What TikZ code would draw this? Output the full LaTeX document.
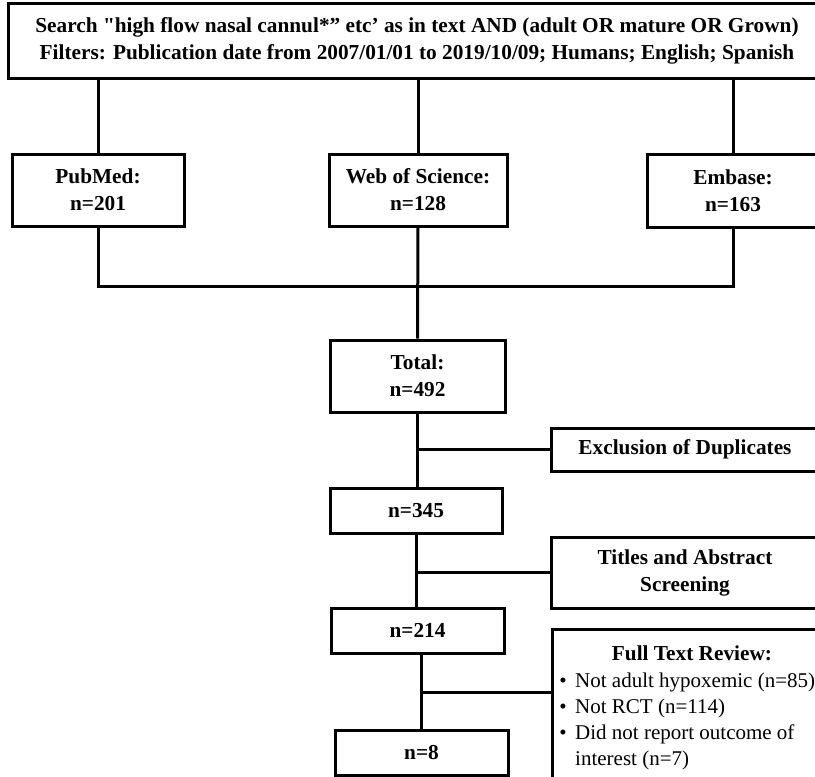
\documentclass[tikz,border=0pt]{standalone}
\usepackage{fontspec}
\setmainfont{Liberation Serif}[Ligatures=TeXOff]
\begin{document}
\begin{tikzpicture}[x=1pt,y=-1pt,
  box/.style={draw, line width=3pt, inner sep=0pt, align=center, font=\bfseries\fontsize{21.3}{27}\selectfont},
  link/.style={line width=3pt},
  plain/.style={inner sep=0pt, font=\fontsize{21}{27}\selectfont, anchor=base west}]
\useasboundingbox (0,0) rectangle (815,777);
\clip (0,0) rectangle (815,777);
\node[box, minimum width=818pt, minimum height=75pt] (top) at (417,40.5)
  {Search "high flow nasal cannul*” etc’ as in text AND (adult OR mature OR Grown)\\
   Filters: Publication date from 2007/01/01 to 2019/10/09; Humans; English; Spanish};
\node[box, minimum width=172pt, minimum height=72pt] (pubmed) at (98,190) {PubMed:\\n=201};
\node[box, minimum width=178pt, minimum height=72pt] (wos) at (418,190) {Web of Science:\\n=128};
\node[box, minimum width=172pt, minimum height=73pt] (embase) at (733,190.5) {Embase:\\n=163};
\node[box, minimum width=175pt, minimum height=72pt] (total) at (417.5,376) {Total:\\n=492};
\node[box, minimum width=268pt, minimum height=43pt] (excl) at (685,449.5) {Exclusion of Duplicates};
\node[box, minimum width=172pt, minimum height=45pt] (n345) at (416,510.5) {n=345};
\node[box, minimum width=268pt, minimum height=71pt] (titles) at (685,572.5) {Titles and Abstract\\Screening};
\node[box, minimum width=173pt, minimum height=45pt] (n214) at (417.5,630.5) {n=214};
\node[box, minimum width=173pt, minimum height=45pt] (n8) at (421.5,752.5) {n=8};
\node[box, minimum width=280pt, minimum height=171pt] (ft) at (692,714.5) {};
\node[box, draw=none, anchor=base] (fttitle) at (692,660) {Full Text Review:};
\node[plain] (b1) at (575,687) {\llap{\textbullet\hspace{8.5pt}}Not adult hypoxemic (n=85)};
\node[plain] (b2) at (575,713) {\llap{\textbullet\hspace{8.5pt}}Not RCT (n=114)};
\node[plain] (b3) at (575,739) {\llap{\textbullet\hspace{8.5pt}}Did not report outcome of};
\node[plain] (b4) at (575,765) {interest (n=7)};
% connectors
\draw[link] (pubmed.north |- top.south) -- (pubmed.north);
\draw[link] (wos.north |- top.south) -- (wos.north);
\draw[link] (embase.north |- top.south) -- (embase.north);
\coordinate (jn) at (418,286);
\draw[link] (pubmed.south) |- (jn) -| (embase.south);
\draw[link] (wos.south) -- (total.north);
\draw[link] (total.south) -- (total.south |- n345.north);
\draw[link] (total.south |- excl.west) -- (excl.west);
\draw[link] (n345.south) -- (n345.south |- n214.north);
\draw[link] (n345.south |- titles.west) -- (titles.west);
\coordinate (br) at (421,692);
\draw[link] (n8.north |- n214.south) -- (n8.north);
\draw[link] (br) -- (br -| ft.west);
\end{tikzpicture}
\end{document}
